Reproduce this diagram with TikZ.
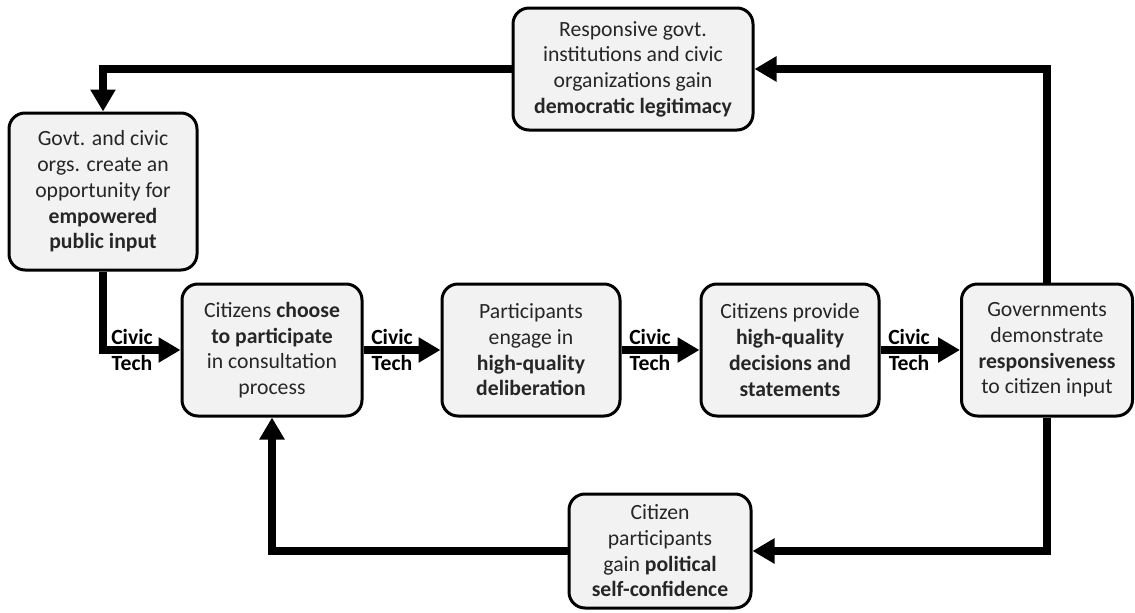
\documentclass[tikz,border=0pt]{standalone}
\usepackage{fontspec}
\setmainfont{Carlito}
\usetikzlibrary{arrows.meta}
\definecolor{boxfill}{HTML}{F2F2F2}
\definecolor{txt}{HTML}{262626}
\begin{document}
\begin{tikzpicture}[x=1pt,y=-1pt,
  box/.style={draw=black, line width=3pt, fill=boxfill, rounded corners=16pt,
    align=center, inner sep=0pt, text=txt,
    font=\fontsize{21.7}{25.7}\selectfont},
  flow/.style={line width=8pt, -{Triangle[length=22pt,width=24pt]}},
  civic/.style={align=center, inner sep=0pt, font=\fontsize{21.7}{25.5}\selectfont\bfseries}
]
\useasboundingbox (0,0) rectangle (1135,613);

\node[box, minimum width=240pt, minimum height=122pt] (tb) at (633,69)
  {Responsive govt.\\institutions and civic\\organizations gain\\\textbf{democratic legitimacy}};
\node[box, minimum width=188pt, minimum height=157pt] (lb) at (103,191.5)
  {Govt. and civic\\orgs. create an\\opportunity for\\\textbf{empowered}\\\textbf{public input}};
\node[box, minimum width=180pt, minimum height=132pt] (m1) at (272,350)
  {Citizens \textbf{choose}\\\textbf{to participate}\\in consultation\\process};
\node[box, minimum width=178pt, minimum height=132pt] (m2) at (531,350)
  {Participants\\engage in\\\textbf{high-quality}\\\textbf{deliberation}};
\node[box, minimum width=178pt, minimum height=132pt] (m3) at (790,350)
  {Citizens provide\\\textbf{high-quality}\\\textbf{decisions and}\\\textbf{statements}};
\node[box, minimum width=171pt, minimum height=132pt] (m4) at (1047,350)
  {Governments\\demonstrate\\\textbf{responsiveness}\\to citizen input};
\node[box, minimum width=182pt, minimum height=114pt] (bb) at (660,551)
  {Citizen\\participants\\gain \textbf{political}\\\textbf{self-confidence}};

\node[civic] (ct1) at (132,350) {Civic\\Tech};
\node[civic] (ct2) at (392,350) {Civic\\Tech};
\node[civic] (ct3) at (650,350) {Civic\\Tech};
\node[civic] (ct4) at (909,350) {Civic\\Tech};

\draw[flow] (tb.west) -| (lb.north);
\draw[flow] (lb.south) |- (m1.west);
\draw[flow] (m1.east) -- (m2.west);
\draw[flow] (m2.east) -- (m3.west);
\draw[flow] (m3.east) -- (m4.west);
\draw[flow] (m4.north) |- (tb.east);
\draw[flow] (m4.south) |- (bb.east);
\draw[flow] (bb.west) -| (m1.south);
\end{tikzpicture}
\end{document}
